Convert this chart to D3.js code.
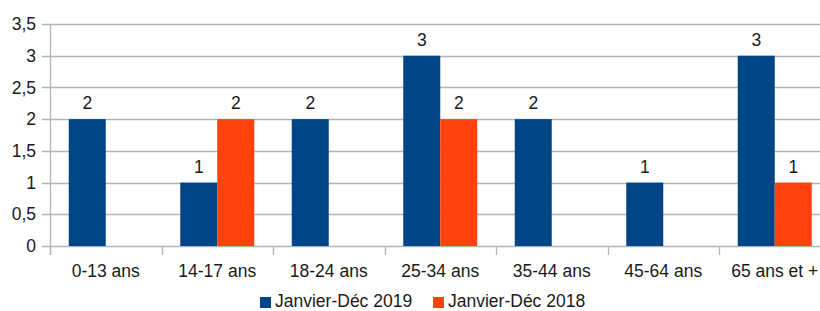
<!DOCTYPE html>
<html>
<head>
<meta charset="utf-8">
<script src="https://cdn.jsdelivr.net/npm/d3@7"></script>
<style>
  body { margin: 0; background: #fff; }
  svg text { font-family: "Liberation Sans", Arial, sans-serif; fill: #1a1a1a; }
</style>
</head>
<body>
<div id="chart"><svg width="820" height="311"></svg></div>
<script>
// categories and series
const categories = ['0-13 ans', '14-17 ans', '18-24 ans', '25-34 ans', '35-44 ans', '45-64 ans', '65 ans et +']
const values2019 = [2, 1, 2, 3, 2, 1, 3]
const values2018 = [null, 2, null, 2, null, null, 1]
const seriesNames = ['Janvier-Déc 2019', 'Janvier-Déc 2018']
const seriesColors = ['#004586', '#ff420e']
const yTicks = [0, 0.5, 1, 1.5, 2, 2.5, 3, 3.5]

const svg = d3.select('#chart').select('svg')
const fontSize = 17.5

const x = d3.scaleBand().domain(categories).range([50, 830.5]).padding(0)
const y = d3.scaleLinear().domain([0, 3.5]).range([246, 24])
const inner = d3.scaleBand().domain([0, 1]).range([18.75, x.bandwidth() - 18.75]).padding(0)
const fmt = d => String(d).replace('.', ',')

// gridlines
svg.append('g')
  .selectAll('line')
  .data(yTicks)
  .join('line')
  .attr('x1', 42)
  .attr('x2', 830)
  .attr('y1', d => Math.round(y(d)) + 0.5)
  .attr('y2', d => Math.round(y(d)) + 0.5)
  .attr('stroke', '#b3b3b3')
  .attr('stroke-width', 1.3)

// y tick labels
svg.append('g')
  .selectAll('text')
  .data(yTicks)
  .join('text')
  .attr('x', 36)
  .attr('y', d => y(d))
  .attr('dy', '0.35em')
  .attr('text-anchor', 'end')
  .attr('font-size', fontSize)
  .text(fmt)

// category ticks
svg.append('g')
  .selectAll('line')
  .data(categories)
  .join('line')
  .attr('x1', d => Math.round(x(d)) + 0.5)
  .attr('x2', d => Math.round(x(d)) + 0.5)
  .attr('y1', 246)
  .attr('y2', 255)
  .attr('stroke', '#b3b3b3')
  .attr('stroke-width', 1.3)

// y axis line
svg.append('line')
  .attr('x1', 50.5).attr('x2', 50.5)
  .attr('y1', 24).attr('y2', 255)
  .attr('stroke', '#b3b3b3')
  .attr('stroke-width', 1.3)

// bars
const series = [values2019, values2018]
series.forEach((vals, si) => {
  const g = svg.append('g')
  const pts = categories.map((c, i) => ({ c, v: vals[i] })).filter(d => d.v != null)
  g.selectAll('rect')
    .data(pts)
    .join('rect')
    .attr('x', d => x(d.c) + inner(si))
    .attr('y', d => y(d.v))
    .attr('width', inner.bandwidth())
    .attr('height', d => y(0) - y(d.v))
    .attr('fill', seriesColors[si])
  g.selectAll('text')
    .data(pts)
    .join('text')
    .attr('x', d => x(d.c) + inner(si) + inner.bandwidth() / 2)
    .attr('y', d => y(d.v) - 10)
    .attr('text-anchor', 'middle')
    .attr('font-size', fontSize)
    .text(d => fmt(d.v))
})

// category labels
svg.append('g')
  .selectAll('text')
  .data(categories)
  .join('text')
  .attr('x', d => x(d) + x.bandwidth() / 2)
  .attr('y', 277)
  .attr('text-anchor', 'middle')
  .attr('font-size', fontSize)
  .text(d => d)

// legend
const legendX = [260, 433]
const legend = svg.append('g')
seriesNames.forEach((name, i) => {
  legend.append('rect')
    .attr('x', legendX[i])
    .attr('y', 297)
    .attr('width', 11)
    .attr('height', 11)
    .attr('fill', seriesColors[i])
  legend.append('text')
    .attr('x', legendX[i] + 15)
    .attr('y', 307)
    .attr('font-size', fontSize)
    .text(name)
})
</script>
</body>
</html>
